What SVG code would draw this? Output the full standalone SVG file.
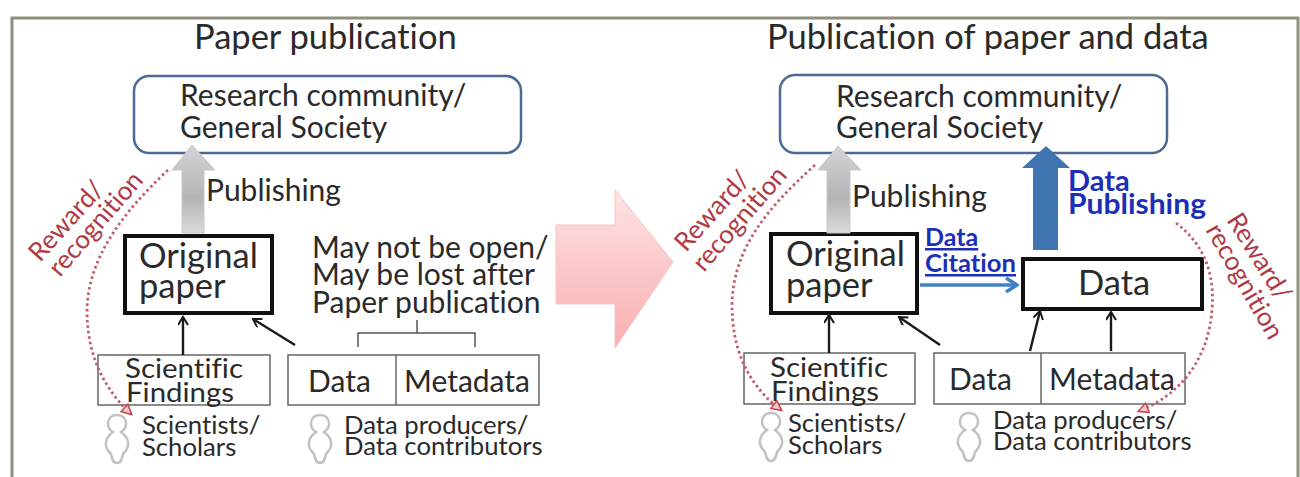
<svg xmlns="http://www.w3.org/2000/svg" width="1300" height="477" viewBox="0 0 1300 477">
<defs>
<linearGradient id="gArrow" x1="0" y1="0" x2="0" y2="1"><stop offset="0" stop-color="#d4d4d6"/><stop offset="0.6" stop-color="#b4b4b6"/><stop offset="1" stop-color="#dadada"/></linearGradient>
<linearGradient id="pArrow" x1="0" y1="0" x2="0" y2="1"><stop offset="0" stop-color="#fde3e3"/><stop offset="1" stop-color="#f9aeb0"/></linearGradient>
<marker id="blk" markerWidth="12" markerHeight="12" refX="9" refY="5" orient="auto" markerUnits="userSpaceOnUse"><path d="M1 0L9 5L1 10" fill="none" stroke="#1a1a1a" stroke-width="2"/></marker>
<marker id="red" markerWidth="14" markerHeight="14" refX="10" refY="6" orient="auto" markerUnits="userSpaceOnUse"><path d="M1 1L11 6L1 11Z" fill="#f3c6c6" stroke="#c4474f" stroke-width="1.5"/></marker>
<marker id="blu" markerWidth="14" markerHeight="16" refX="11" refY="8" orient="auto" markerUnits="userSpaceOnUse"><path d="M1 1L12 8L1 15" fill="none" stroke="#3f83c4" stroke-width="3.5"/></marker>
<path id="person" class="pers" d="M13 0C7 0 4 4 4 9C4 13 6 15 9 17C6 19 3 22 2 27C1 32 4 36 7 39C8 44 9 48 13 48C17 48 18 44 19 39C22 36 25 32 24 27C23 22 20 19 17 17C20 15 22 13 22 9C22 4 19 0 13 0Z"/>
</defs>
<style>
text{font-family:"Lato","Noto Sans","Liberation Sans",sans-serif;fill:#2a2a2a;font-variant-ligatures:none}
.t{font-size:34.5px}
.m{font-size:30px}
.b{font-size:34.5px}
.c{font-size:30px}
.f{font-size:27px}
.s{font-size:25.7px}
.r{font-size:26px;fill:#b03a44}
.bl{font-weight:700;fill:#1c2fb8}
.comm{fill:#fff;stroke:#4a6a94;stroke-width:2.5}
.pap{fill:#fff;stroke:#111;stroke-width:4}
.box{fill:#fff;stroke:#666;stroke-width:1.5}
.con{fill:none;stroke:#1a1a1a;stroke-width:2.4;marker-end:url(#blk)}
.dot{fill:none;stroke:#c4596a;stroke-width:2.8;stroke-dasharray:2.5 3;marker-end:url(#red)}
.pers{fill:#fff;stroke:#c2c2c2;stroke-width:2.5}
</style>
<rect width="1300" height="477" fill="#fff"/>
<path id="frame" d="M12 477V18H1298V477" fill="none" stroke="#8f8f7c" stroke-width="3"/>

<g id="big-arrow"><path d="M556 225H615V190L673 262L615 348V304H556Z" fill="url(#pArrow)" stroke="#f4c4c6"/></g>

<g id="left-title"><text class="t" x="194" y="49">Paper publication</text></g>
<g id="left-community"><rect class="comm" x="134" y="76" width="387" height="77" rx="15"/><text class="m" x="180" y="106">Research community/</text><text class="m" x="180" y="138">General Society</text></g>
<g id="left-paper"><rect class="pap" x="125" y="236" width="147" height="77"/><text class="b" x="139" y="268">Original</text><text class="b" x="139" y="298">paper</text></g>
<g id="left-findings"><rect class="box" x="98" y="355" width="172" height="50"/><text class="f" x="125" y="378" textLength="118" lengthAdjust="spacingAndGlyphs">Scientific</text><text class="f" x="126" y="402" textLength="108" lengthAdjust="spacingAndGlyphs">Findings</text></g>
<g id="left-data"><rect class="box" x="288" y="355" width="251" height="50"/><path class="box" d="M396 355V405"/><text class="c" x="308" y="392">Data</text><text class="c" x="404" y="392">Metadata</text></g>
<g id="left-note"><text class="c" x="312" y="258">May not be open/</text><text class="c" x="312" y="285">May be lost after</text><text class="c" x="312" y="313">Paper publication</text><path d="M358 347V333H475V347M417 333V320" fill="none" stroke="#555" stroke-width="1.5"/></g>
<g id="left-publishing"><text class="c" x="206" y="201">Publishing</text></g>
<g id="left-scientists"><use href="#person" x="104" y="415"/><text class="s" x="142" y="434">Scientists/</text><text class="s" x="142" y="456">Scholars</text></g>
<g id="left-producers"><use href="#person" x="307" y="415"/><text class="s" x="344" y="434">Data producers/</text><text class="s" x="344" y="455">Data contributors</text></g>
<g id="left-reward"><text class="r" transform="translate(40 263) rotate(-48)">Reward/</text><text class="r" transform="translate(60 278) rotate(-49)">recognition</text></g>

<g id="right-title"><text class="t" x="767" y="49">Publication of paper and data</text></g>
<g id="right-community"><rect class="comm" x="780" y="75" width="387" height="78" rx="15"/><text class="m" x="836" y="107">Research community/</text><text class="m" x="836" y="138">General Society</text></g>
<g id="right-paper"><rect class="pap" x="771" y="234" width="146" height="79"/><text class="b" x="786" y="266">Original</text><text class="b" x="786" y="297">paper</text></g>
<g id="right-data"><rect class="pap" x="1023" y="259" width="179" height="50"/><text class="b" x="1078" y="295">Data</text></g>
<g id="right-findings"><rect class="box" x="744" y="353" width="171" height="51"/><text class="f" x="770" y="377" textLength="118" lengthAdjust="spacingAndGlyphs">Scientific</text><text class="f" x="771" y="401" textLength="108" lengthAdjust="spacingAndGlyphs">Findings</text></g>
<g id="right-datameta"><rect class="box" x="934" y="353" width="251" height="51"/><path class="box" d="M1041 353V404"/><text class="c" x="949" y="390">Data</text><text class="c" x="1049" y="390">Metadata</text></g>
<g id="right-publishing"><text class="c" x="852" y="207">Publishing</text></g>
<g id="right-data-publishing"><text class="bl" font-size="29" x="1068" y="191">Data</text><text class="bl" font-size="29" x="1068" y="214" textLength="138" lengthAdjust="spacingAndGlyphs">Publishing</text></g>
<g id="right-data-citation"><text class="bl" font-size="25" x="925" y="246" text-decoration="underline">Data</text><text class="bl" font-size="25" x="925" y="272" text-decoration="underline" textLength="91" lengthAdjust="spacingAndGlyphs">Citation</text></g>
<g id="right-scientists"><use href="#person" x="758" y="413"/><text class="s" x="788" y="432">Scientists/</text><text class="s" x="788" y="454">Scholars</text></g>
<g id="right-producers"><use href="#person" x="956" y="413"/><text class="s" x="993" y="429">Data producers/</text><text class="s" x="993" y="450">Data contributors</text></g>
<g id="right-reward-left"><text class="r" transform="translate(686 253) rotate(-48)">Reward/</text><text class="r" transform="translate(704 273) rotate(-49)">recognition</text></g>
<g id="right-reward-right"><text class="r" transform="translate(1226 220) rotate(58)">Reward/</text><text class="r" transform="translate(1205 230) rotate(60)">recognition</text></g>

<g id="connectors">
<path d="M192 145L215 170H204V233H182V170H172Z" fill="url(#gArrow)" stroke="#c8c8c8"/>
<path class="con" d="M183 355V317"/>
<path class="con" d="M295 345L253 319"/>
<path class="dot" d="M168 170C120 215 88 260 87 310C87 350 100 385 131 414"/>
<path d="M838 146L861 170H850V233H827V170H818Z" fill="url(#gArrow)" stroke="#c8c8c8"/>
<path d="M1046 146L1070 168H1058V250H1033V168H1022Z" fill="#3f74b0"/>
<path d="M920 285H1016" fill="none" stroke="#3f83c4" stroke-width="3.5" marker-end="url(#blu)"/>
<path class="con" d="M829 353V315"/>
<path class="con" d="M940 345L899 317"/>
<path class="con" d="M1030 351L1040 311"/>
<path class="con" d="M1111 351V312"/>
<path class="dot" d="M815 165C765 210 733 250 732 305C732 350 748 385 781 410"/>
<path class="dot" d="M1176 223C1205 245 1215 275 1212 310C1208 360 1180 395 1139 411"/>
</g>
</svg>
